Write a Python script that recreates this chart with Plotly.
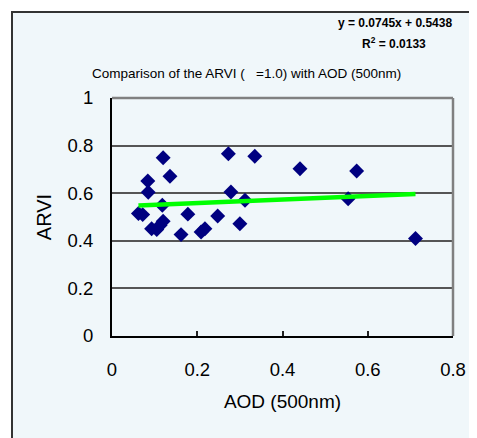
import plotly.graph_objects as go

# Data
aod = [0.120, 0.136, 0.084, 0.085, 0.118, 0.062, 0.072, 0.178, 0.248, 0.093,
       0.105, 0.120, 0.113, 0.162, 0.209, 0.218, 0.300, 0.279, 0.312, 0.273,
       0.335, 0.441, 0.574, 0.554, 0.712]
arvi = [0.749, 0.671, 0.651, 0.604, 0.549, 0.515, 0.510, 0.512, 0.504, 0.451,
        0.447, 0.482, 0.465, 0.426, 0.437, 0.451, 0.472, 0.605, 0.570, 0.766,
        0.755, 0.703, 0.693, 0.577, 0.410]
slope = 0.0745
intercept = 0.5438
r2 = 0.0133
x_ticks = [0, 0.2, 0.4, 0.6, 0.8]
y_ticks = [0, 0.2, 0.4, 0.6, 0.8, 1]

W, H = 477, 438
OFF = 8  # page body margin
# plot area in page pixels: x 112..453, y 98..336
PX0, PX1, PY0, PY1 = 112, 453, 98, 336
L = PX0 - OFF
T = PY0 - OFF
R = W - (PX1 - OFF)
B = H - (PY1 - OFF)

trend_x = [min(aod), max(aod)]
trend_y = [slope * v + intercept for v in trend_x]

fig = go.Figure()
fig.add_trace(go.Scatter(
    x=aod, y=arvi, mode="markers",
    marker=dict(symbol="diamond", size=11.5, color="#000080",
                line=dict(width=0)),
    showlegend=False, hoverinfo="x+y", cliponaxis=False))
fig.add_trace(go.Scatter(
    x=trend_x, y=trend_y, mode="lines",
    line=dict(color="#00FF00", width=4.5),
    showlegend=False, hoverinfo="skip"))

def px_x(p):
    return (p - PX0) / (PX1 - PX0)
def px_y(p):
    return (PY1 - p) / (PY1 - PY0)

shapes = [
    # outer chart frame
    dict(type="rect", xref="paper", yref="paper",
         x0=px_x(12), x1=px_x(490), y0=px_y(450), y1=px_y(12),
         line=dict(color="#333333", width=2), fillcolor="#F0F7FA",
         layer="below"),
    # plot-area top/right border
    dict(type="line", xref="paper", yref="paper", x0=0, x1=1, y0=1, y1=1,
         line=dict(color="#808080", width=2.5)),
    dict(type="line", xref="paper", yref="paper", x0=1, x1=1, y0=0, y1=1,
         line=dict(color="#808080", width=2.5)),
]

font = "Liberation Sans, Arial, sans-serif"

fig.update_layout(
    width=W, height=H,
    margin=dict(l=L, r=R, t=T, b=B, autoexpand=False),
    paper_bgcolor="white",
    plot_bgcolor="#C0C0C0",
    shapes=shapes,
    font=dict(family=font, color="black"),
    annotations=[
        dict(text="Comparison of the ARVI (   =1.0) with AOD (500nm)",
             xref="paper", yref="paper", x=px_x(246), y=px_y(74),
             xanchor="center", yanchor="middle", showarrow=False,
             font=dict(size=13.5, family=font, color="black")),
        dict(text="<b>y = %.4fx + %.4f</b>" % (slope, intercept),
             xref="paper", yref="paper", x=px_x(395), y=px_y(23),
             xanchor="center", yanchor="middle", showarrow=False,
             font=dict(size=12, family=font, color="black")),
        dict(text="<b>R<sup>2</sup> = %.4f</b>" % r2,
             xref="paper", yref="paper", x=px_x(394), y=px_y(43),
             xanchor="center", yanchor="middle", showarrow=False,
             font=dict(size=12, family=font, color="black")),
    ],
    xaxis=dict(
        range=[0, 0.8], tickvals=x_ticks, ticktext=[str(v) for v in x_ticks],
        showgrid=False, zeroline=False, automargin=False,
        showline=True, linecolor="black", linewidth=2,
        ticks="inside", ticklen=5, tickwidth=1.5, tickcolor="#222222",
        tickfont=dict(size=18.5, family=font, color="black"),
        ticklabelstandoff=16,
        title=dict(text="AOD (500nm)", standoff=15,
                   font=dict(size=19, family=font, color="black")),
        fixedrange=True),
    yaxis=dict(
        range=[0, 1], tickvals=y_ticks, ticktext=[str(v) for v in y_ticks],
        showgrid=True, gridcolor="#555555", gridwidth=1.5,
        zeroline=False, automargin=False,
        showline=True, linecolor="black", linewidth=2,
        ticks="",
        tickfont=dict(size=18.5, family=font, color="black"),
        ticklabelstandoff=13,
        title=dict(text="ARVI", standoff=11,
                   font=dict(size=20, family=font, color="black")),
        fixedrange=True),
)

fig.write_html("out.html")
